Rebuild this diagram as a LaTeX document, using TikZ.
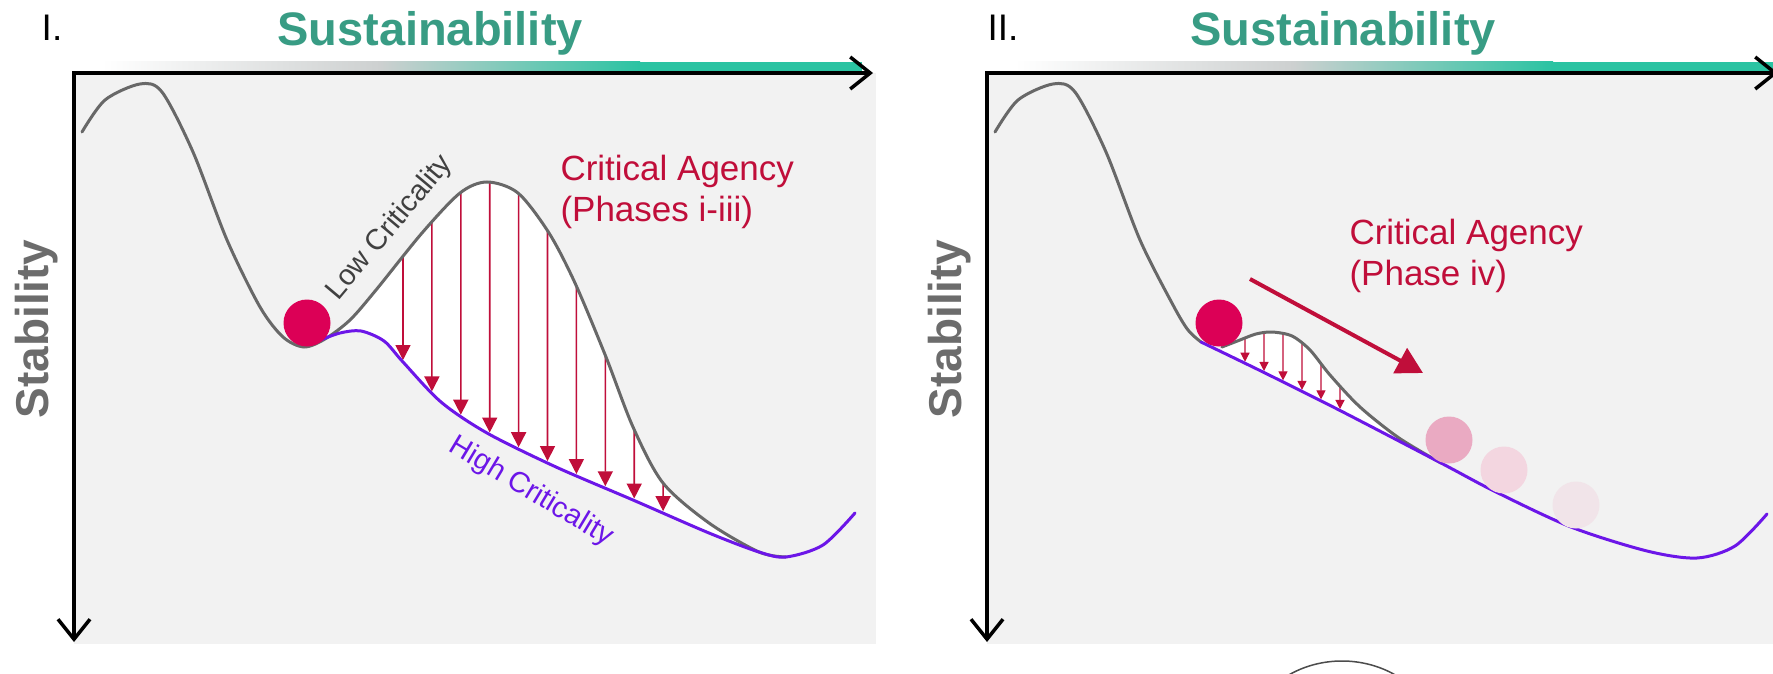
\documentclass[tikz,border=0pt]{standalone}
\usepackage{fontspec}
\setmainfont{Liberation Sans}
\usetikzlibrary{arrows.meta,intersections}

\definecolor{bggray}{RGB}{242,242,242}
\definecolor{curvegray}{RGB}{104,104,104}
\definecolor{critpurple}{RGB}{108,22,232}
\definecolor{critred}{RGB}{192,14,58}
\definecolor{ballred}{RGB}{220,0,86}
\definecolor{susteal}{RGB}{56,156,132}
\definecolor{barteal}{RGB}{42,195,162}
\definecolor{barmid}{RGB}{205,208,208}
\definecolor{stabgray}{RGB}{108,108,108}
\definecolor{fadeA}{RGB}{234,170,194}
\definecolor{fadeB}{RGB}{243,214,224}
\definecolor{fadeC}{RGB}{241,228,233}

\newcommand{\lowcritI}{plot[smooth] coordinates {(82,132) (105,100) (140,84) (162,92) (193,152) (227,240) (260,307) (283,337) (304,347) (325,339) (350,320) (376,290) (422,233) (460,193) (487,182) (518,193) (549,233) (575,283) (606,357) (633,427) (663,483) (709,523) (759,552) (786,557)}}
\newcommand{\highcritI}{plot[smooth] coordinates {(318,341) (340,333) (361,331) (384,341) (403,362) (441,402) (487,433) (556,467) (633,500) (709,533) (759,552) (786,557) (823,545) (855,513)}}
\newcommand{\lowcritII}{plot[smooth] coordinates {(995,132) (1018,100) (1053,84) (1075,92) (1106,152) (1140,240) (1173,305) (1188,330) (1201,342)}}
\newcommand{\bumpII}{plot[smooth] coordinates {(1222,347) (1240,340) (1256,334) (1272,332) (1292,336) (1310,350) (1330,375) (1360,407) (1399,438) (1441,463)}}
\newcommand{\highcritII}{plot[smooth] coordinates {(1201,342) (1265,373) (1341,411) (1441,463) (1494,491) (1571,527) (1647,551) (1697,558) (1735,546) (1767,514)}}

\begin{document}
\begin{tikzpicture}[x=1pt, y=-1pt,
	lowline/.style={line width=3pt, curvegray, line cap=round},
	highline/.style={line width=3pt, critpurple, line cap=round},
	axisline/.style={line width=3.5pt, >={Straight Barb[length=20pt,width=32pt]}, <->},
	pushI/.style={line width=1.6pt, critred, -{Triangle[length=15pt,width=15pt]}, shorten >=2pt},
	pushII/.style={line width=1.2pt, critred, -{Triangle[length=9pt,width=9pt]}, shorten >=1.5pt},
	ball/.style={circle, fill=#1, minimum size=47pt, inner sep=0pt},
	sustitle/.style={font=\fontsize{47}{50}\selectfont\bfseries, text=susteal, anchor=base},
	panelno/.style={font=\fontsize{37}{40}\selectfont},
	stab/.style={font=\fontsize{46}{50}\selectfont\bfseries, text=stabgray, rotate=90},
	agency/.style={font=\fontsize{35}{41}\selectfont, text=critred, align=left, anchor=west},
	curvelabel/.style={font=\fontsize{29}{33}\selectfont}]
	\clip (0,0) rectangle (1773,674);
	\fill[white] (0,0) rectangle (1773,674);

	\fill[bggray] (74,73) rectangle (876,644);
	\fill[bggray] (987,73) rectangle (1773,644);
	\shade[left color=white, right color=barmid] (102,62) rectangle (380,73);
	\shade[left color=barmid, right color=barteal] (380,62) rectangle (640,73);
	\fill[barteal] (640,62) rectangle (862,73);
	\shade[left color=white, right color=barmid] (1015,62) rectangle (1293,73);
	\shade[left color=barmid, right color=barteal] (1293,62) rectangle (1553,73);
	\fill[barteal] (1553,62) rectangle (1773,73);

	\path[name path=lowI] \lowcritI;
	\path[name path=highI] \highcritI;
	\path[name path=bumpII] \bumpII;
	\path[name path=highII] \highcritII;

	\begin{scope}
		\clip (325,60) rectangle (786,660);
		\clip \highcritI -- (900,60) -- (318,60) -- cycle;
		\fill[white] \lowcritI -- (786,660) -- (82,660) -- cycle;
	\end{scope}
	\begin{scope}
		\clip (1222,60) rectangle (1441,660);
		\clip \highcritII -- (1800,60) -- (1201,60) -- cycle;
		\fill[white] \bumpII -- (1441,660) -- (1222,660) -- cycle;
	\end{scope}

	\foreach \k in {0,...,9}{
		\path[name path=probe] (403+28.9*\k,90) -- (403+28.9*\k,640);
		\path[name intersections={of=lowI and probe, by=pa}];
		\path[name intersections={of=highI and probe, by=pb}];
		\draw[pushI] (pa) -- (pb);
	}
	\foreach \k in {0,...,5}{
		\path[name path=probe] (1245+19*\k,90) -- (1245+19*\k,640);
		\path[name intersections={of=bumpII and probe, by=pa}];
		\path[name intersections={of=highII and probe, by=pb}];
		\draw[pushII] (pa) -- (pb);
	}

	\draw[lowline] \lowcritI;
	\draw[highline] \highcritI;
	\draw[lowline] \lowcritII;
	\draw[lowline] \bumpII;
	\draw[highline] \highcritII;

	\node[ball=ballred] (ballI) at (307,323) {};
	\node[ball=ballred] (ballII) at (1219,323) {};
	\node[ball=fadeA] (fadeone) at (1449,440) {};
	\node[ball=fadeB] (fadetwo) at (1504,470) {};
	\node[ball=fadeC] (fadethree) at (1576,505) {};

	\coordinate (agA) at (1250,279);
	\coordinate (agB) at (1423,373);
	\draw[line width=4pt, critred, -{Triangle[length=26pt,width=28pt]}] (agA) -- (agB);

	\coordinate (oI) at (74,73);
	\coordinate (xI) at (873,73);
	\coordinate (yI) at (74,642);
	\coordinate (oII) at (987,73);
	\coordinate (xII) at (1778,73);
	\coordinate (yII) at (987,642);
	\draw[axisline] (xI) -- (oI) -- (yI);
	\draw[axisline] (xII) -- (oII) -- (yII);

	\node[panelno] (numI) at (52,28) {I.};
	\node[panelno] (numII) at (1003,28) {II.};
	\node[sustitle] (sustI) at (430,46) {Sustainability};
	\node[sustitle] (sustII) at (1343,46) {Sustainability};
	\node[stab] (stabI) at (37,329) {Stability};
	\node[stab] (stabII) at (950,329) {Stability};

	\node[curvelabel, text=black!75, rotate=50] (lowlab) at (390,228) {Low Criticality};
	\node[curvelabel, text=critpurple, rotate=-31] (highlab) at (531,492) {High Criticality};
	\node[agency] (agencyI) at (557,192) {Critical Agency\\(Phases i-iii)};
	\node[agency] (agencyII) at (1346,256) {Critical Agency\\(Phase iv)};

	\draw[line width=1.5pt, black!70] (1287,676) .. controls (1320,656) and (1364,656) .. (1397,676);
\end{tikzpicture}
\end{document}
